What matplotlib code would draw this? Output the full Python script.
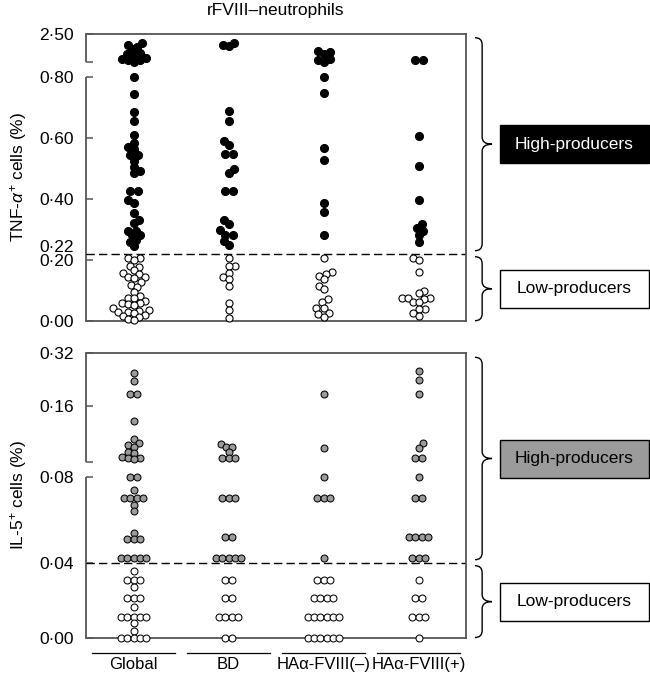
import numpy as np
import matplotlib
matplotlib.use('Agg')
import matplotlib.pyplot as plt
from matplotlib.path import Path
from matplotlib.patches import PathPatch, Rectangle
import matplotlib.transforms as mtransforms

plt.rcParams['font.family'] = ['Liberation Sans', 'DejaVu Sans']
plt.rcParams['mathtext.fontset'] = 'custom'
plt.rcParams['mathtext.rm'] = 'Liberation Sans'
plt.rcParams['mathtext.it'] = 'Liberation Sans:italic'
plt.rcParams['mathtext.bf'] = 'Liberation Sans:bold'

# ---------------- data ----------------
title = 'rFVIII\u2013neutrophils'
categories = ['Global', 'BD', 'HA\u03b1-FVIII(\u2013)', 'HA\u03b1-FVIII(+)']

# TNF-alpha+ cells (%)
tnf_high_global = [1.95, 1.85, 1.75, 1.58, 1.38, 1.30, 1.24, 1.05, 1.00, 0.98, 0.95, 0.86,
                   0.80, 0.745, 0.685, 0.655, 0.61, 0.585, 0.57, 0.565, 0.545, 0.545, 0.525,
                   0.505, 0.49, 0.485, 0.425, 0.425, 0.395, 0.385, 0.355, 0.33, 0.32, 0.295,
                   0.295, 0.28, 0.28, 0.265, 0.26, 0.245]
tnf_low_global = [0.207, 0.207, 0.20, 0.18, 0.177, 0.165, 0.158, 0.153, 0.145, 0.145, 0.14,
                  0.128, 0.117, 0.112, 0.095, 0.08, 0.075, 0.073, 0.066, 0.058, 0.057, 0.055,
                  0.05, 0.042, 0.036, 0.033, 0.03, 0.03, 0.025, 0.019, 0.016, 0.012, 0.005, 0.002]
tnf_high_bd = [1.96, 1.83, 1.78, 0.688, 0.657, 0.59, 0.578, 0.546, 0.546, 0.497, 0.485,
               0.425, 0.425, 0.33, 0.319, 0.297, 0.283, 0.283, 0.261, 0.248]
tnf_low_bd = [0.205, 0.18, 0.178, 0.157, 0.144, 0.136, 0.114, 0.057, 0.035, 0.008]
tnf_high_neg = [1.49, 1.43, 1.34, 0.99, 0.95, 0.86, 0.80, 0.748, 0.567, 0.529, 0.388, 0.357, 0.281]
tnf_low_neg = [0.207, 0.16, 0.155, 0.147, 0.136, 0.114, 0.103, 0.07, 0.06, 0.041, 0.041,
               0.024, 0.022, 0.013]
tnf_high_pos = [0.95, 0.95, 0.606, 0.508, 0.398, 0.316, 0.305, 0.295, 0.28, 0.26]
tnf_low_pos = [0.207, 0.20, 0.16, 0.098, 0.09, 0.075, 0.074, 0.073, 0.07, 0.062, 0.06,
               0.04, 0.037, 0.025, 0.015]

# IL-5+ cells (%)
il5_high_global = [0.26, 0.235, 0.195, 0.195, 0.14, 0.115, 0.11, 0.108, 0.105, 0.098, 0.097,
                   0.092, 0.09, 0.09, 0.089, 0.08, 0.08, 0.074, 0.07, 0.07, 0.07, 0.07, 0.067,
                   0.064, 0.054, 0.051, 0.051, 0.051, 0.042, 0.042, 0.042, 0.042, 0.042]
il5_low_global = [0.035, 0.03, 0.03, 0.03, 0.026, 0.02, 0.02, 0.02, 0.015, 0.01, 0.01, 0.01,
                  0.01, 0.01, 0.007, 0.003, 0.0, 0.0, 0.0, 0.0, 0.0]
il5_high_bd = [0.109, 0.105, 0.105, 0.098, 0.09, 0.09, 0.09, 0.07, 0.07, 0.07, 0.052, 0.052,
               0.042, 0.042, 0.042, 0.042, 0.042]
il5_low_bd = [0.03, 0.03, 0.02, 0.02, 0.01, 0.01, 0.01, 0.01, 0.0, 0.0]
il5_high_neg = [0.196, 0.104, 0.08, 0.07, 0.07, 0.07, 0.042]
il5_low_neg = [0.03, 0.03, 0.03, 0.02, 0.02, 0.02, 0.02, 0.01, 0.01, 0.01, 0.01, 0.01, 0.01,
               0.0, 0.0, 0.0, 0.0, 0.0, 0.0]
il5_high_pos = [0.265, 0.24, 0.196, 0.11, 0.104, 0.09, 0.09, 0.08, 0.07, 0.07, 0.052, 0.052,
                0.052, 0.052, 0.042, 0.042, 0.042]
il5_low_pos = [0.03, 0.02, 0.02, 0.01, 0.01, 0.01, 0.0]

tnf_high = [tnf_high_global, tnf_high_bd, tnf_high_neg, tnf_high_pos]
tnf_low = [tnf_low_global, tnf_low_bd, tnf_low_neg, tnf_low_pos]
il5_high = [il5_high_global, il5_high_bd, il5_high_neg, il5_high_pos]
il5_low = [il5_low_global, il5_low_bd, il5_low_neg, il5_low_pos]

TNF_CUTOFF = 0.22
IL5_CUTOFF = 0.04
tnf_ticks = [0.0, 0.2, 0.4, 0.6, 0.8, 2.5]
il5_ticks = [0.0, 0.04, 0.08, 0.16, 0.32]
tnf_break = (0.80, 0.85)
il5_break = (0.08, 0.085)

# broken / compressed axis scales (value knots -> axis position)
tnf_scale_vals = [0.0, 0.85, 2.5]
tnf_scale_pos = [0.0, 0.85, 0.9425]
il5_scale_vals = [0.0, 0.01, 0.02, 0.03, 0.04, 0.08, 0.085, 0.16, 0.32]
il5_scale_pos = [0.0, 20.8, 39.8, 57.5, 74.8, 160.8, 175.8, 231.5, 284.2]

# ---------------- style ----------------
W, H = 650, 679
FS = 12.5
SPINE = '#555555'
GRAY = '#9b9b9b'


def piecewise(xk, yk):
    xk = np.asarray(xk, float)
    yk = np.asarray(yk, float)
    s0 = (yk[1] - yk[0]) / (xk[1] - xk[0])
    s1 = (yk[-1] - yk[-2]) / (xk[-1] - xk[-2])

    def f(x):
        x = np.asarray(x, float)
        y = np.interp(x, xk, yk)
        y = np.where(x < xk[0], yk[0] + (x - xk[0]) * s0, y)
        y = np.where(x > xk[-1], yk[-1] + (x - xk[-1]) * s1, y)
        return y
    return f


def px_rect(l, t, r, b):
    return [l / W, 1 - b / H, (r - l) / W, (b - t) / H]


def fmt(v):
    return f'{v:.2f}'.replace('.', '\u00b7')


fig = plt.figure(figsize=(W / 100, H / 100), dpi=100)
ax1 = fig.add_axes(px_rect(86, 33.7, 466, 320.7))
ax2 = fig.add_axes(px_rect(86, 353.3, 466, 637.5))


def setup(ax, sv, sp, ticks, brk, top):
    ax.set_yscale('function', functions=(piecewise(sv, sp), piecewise(sp, sv)))
    ax.set_ylim(0, top)
    ax.set_xlim(-0.5, 3.5)
    for s in ['top', 'right', 'bottom']:
        ax.spines[s].set_color(SPINE)
        ax.spines[s].set_linewidth(1.3)
    ax.spines['left'].set_visible(False)
    yt = ax.get_yaxis_transform()
    ax.plot([0, 0], [0, brk[0]], transform=yt, color=SPINE, lw=1.3, clip_on=False,
            solid_capstyle='butt')
    ax.plot([0, 0], [brk[1], top], transform=yt, color=SPINE, lw=1.3, clip_on=False,
            solid_capstyle='butt')
    tk = list(ticks) + [brk[1]]
    ax.set_yticks(tk, [fmt(t) for t in ticks] + [''])
    ax.yaxis.set_minor_locator(matplotlib.ticker.NullLocator())
    ax.tick_params(axis='y', direction='in', length=5, width=1.1, color=SPINE,
                   pad=8.5, labelsize=FS)


setup(ax1, tnf_scale_vals, tnf_scale_pos, tnf_ticks, tnf_break, 2.5)
setup(ax2, il5_scale_vals, il5_scale_pos, il5_ticks, il5_break, 0.32)
ax1.set_xticks([])
ax2.set_xticks(range(len(categories)), categories)
ax2.tick_params(axis='x', length=0, pad=14, labelsize=12)

ax1.annotate(fmt(TNF_CUTOFF), xy=(0, TNF_CUTOFF), xycoords=ax1.get_yaxis_transform(),
             xytext=(-8.5, 4.5), textcoords='offset points', ha='right', va='center',
             fontsize=FS)

for ax, cut in [(ax1, TNF_CUTOFF), (ax2, IL5_CUTOFF)]:
    ax.axhline(cut, color='black', lw=1.0, dashes=(6, 3), zorder=2)


def _fits(xs, y0, px_, py_, lim):
    if not px_:
        return True
    P = np.array(px_)
    Q = np.array(py_)
    d2 = (np.asarray(xs)[:, None] - P[None, :]) ** 2 + (y0 - Q[None, :]) ** 2
    return not np.any(d2 < lim ** 2)


def _shifts(sign, n=800):
    out = [0.0]
    for k in range(1, n):
        out += [sign * k * 0.5, -sign * k * 0.5]
    return out


def swarm(ax, values, diam, row_gap, coll):
    vals = np.asarray(values, float)
    ypx = ax.transData.transform(np.column_stack([np.zeros_like(vals), vals]))[:, 1]
    order = np.argsort(ypx, kind='stable')
    offs = np.zeros(len(vals))
    px_, py_ = [], []
    lim = diam * coll
    i, g = 0, 0
    while i < len(order):
        j = i
        while j + 1 < len(order) and abs(ypx[order[j + 1]] - ypx[order[i]]) < 0.5:
            j += 1
        grp = order[i:j + 1]
        n = len(grp)
        base = (np.arange(n) - (n - 1) / 2) * diam * row_gap
        y0 = ypx[grp[0]]
        sign = 1 if g % 2 == 0 else -1
        placed = False
        for s in _shifts(sign, int(diam) + 1):
            if _fits(base + s, y0, px_, py_, lim):
                for idx, x in zip(grp, base + s):
                    offs[idx] = x
                    px_.append(x)
                    py_.append(y0)
                placed = True
                break
        if not placed:
            for m, idx in enumerate(grp):
                for s in _shifts(sign if m % 2 == 0 else -sign):
                    if _fits([s], y0, px_, py_, lim):
                        offs[idx] = s
                        px_.append(s)
                        py_.append(y0)
                        break
        i = j + 1
        g += 1
    return offs


def draw_panel(ax, highs, lows, hi_face, diam, s_hi, s_lo, lw, row_gap, coll):
    ppu = ax.transData.transform([[1, 0]])[0, 0] - ax.transData.transform([[0, 0]])[0, 0]
    for c, (hv, lv) in enumerate(zip(highs, lows)):
        vals = list(hv) + list(lv)
        offs = swarm(ax, vals, diam, row_gap, coll)
        x = c + offs / ppu
        nh = len(hv)
        ax.scatter(x[nh:], lv, s=s_lo, facecolor='white', edgecolor='black',
                   linewidths=lw, zorder=3, clip_on=False)
        ax.scatter(x[:nh], hv, s=s_hi, facecolor=hi_face, edgecolor='black',
                   linewidths=lw, zorder=3, clip_on=False)


draw_panel(ax1, tnf_high, tnf_low, 'black', 8.0, 33, 26, 0.8, 1.0, 0.75)
draw_panel(ax2, il5_high, il5_low, GRAY, 7.0, 25, 25, 0.75, 0.9, 0.85)

# category underlines
bt = mtransforms.blended_transform_factory(ax2.transData, ax2.transAxes)
for i in range(len(categories)):
    ax2.plot([i - 0.44, i + 0.44], [-0.053, -0.053], transform=bt, color='black',
             lw=0.9, clip_on=False)

# titles / labels
fig.text(276 / W, 1 - 10 / H, title, ha='center', va='center', fontsize=FS)
for ax, lab in [(ax1, r'TNF-$\alpha^{+}$ cells (%)'), (ax2, r'IL-5$^{+}$ cells (%)')]:
    bb = ax.get_position()
    fig.text(18.5 / W, bb.y0 + bb.height / 2, lab, rotation=90, ha='center',
             va='center', fontsize=FS)


# braces & boxes
def to_fig(xpx, ypx):
    return xpx / W, ypx / H


def brace(x0, x1, ytop, ybot, r=7):
    xm = x0 + 0.42 * (x1 - x0)
    ym = (ytop + ybot) / 2
    v = [(x0, ytop), (xm, ytop), (xm, ytop - r), (xm, ym + r), (xm, ym), (x1, ym),
         (xm, ym), (xm, ym - r), (xm, ybot + r), (xm, ybot), (x0, ybot)]
    C = [Path.MOVETO, Path.CURVE3, Path.CURVE3, Path.LINETO, Path.CURVE3, Path.CURVE3,
         Path.CURVE3, Path.CURVE3, Path.LINETO, Path.CURVE3, Path.CURVE3]
    v = [to_fig(a, b) for a, b in v]
    fig.add_artist(PathPatch(Path(v, C), fill=False, lw=1.0, edgecolor='black',
                             transform=fig.transFigure))
    return ym


def box(yc, face, tcolor, text='High-producers'):
    x0, x1, h = 500, 649, 38
    fig.add_artist(Rectangle(to_fig(x0, yc - h / 2), (x1 - x0) / W, h / H,
                             facecolor=face, edgecolor='black', lw=1.0,
                             transform=fig.transFigure))
    fig.text((x0 + x1) / 2 / W, yc / H, text, ha='center', va='center',
             color=tcolor, fontsize=FS)


for ax, cut, hface, htc in [(ax1, TNF_CUTOFF, 'black', 'white'),
                            (ax2, IL5_CUTOFF, GRAY, 'black')]:
    ytop = ax.transAxes.transform((0, 1))[1]
    ybot = ax.transAxes.transform((0, 0))[1]
    ycut = ax.transData.transform((0, cut))[1]
    ym = brace(475, 492, ytop - 4, ycut + 3)
    box(ym, hface, htc, 'High-producers')
    ym = brace(475, 492, ycut - 3, ybot)
    box(ym, 'white', 'black', 'Low-producers')

fig.savefig('out.png', dpi=100)
